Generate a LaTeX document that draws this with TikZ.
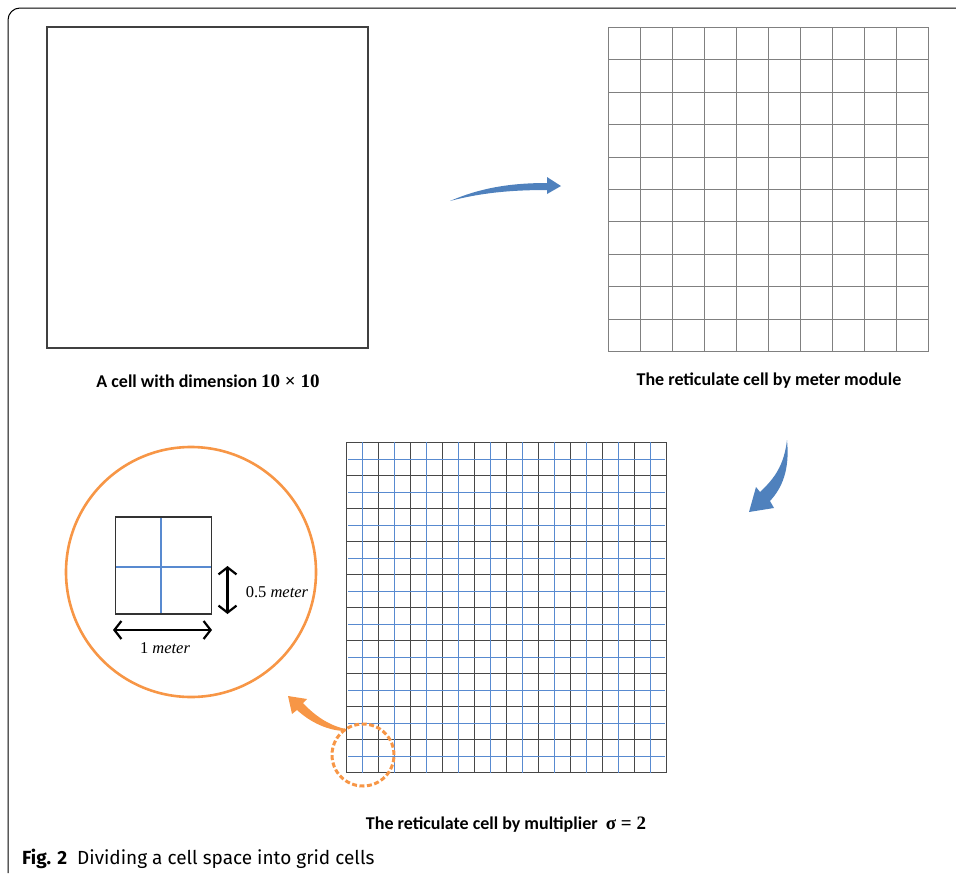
\documentclass[tikz,border=0pt]{standalone}
\usepackage{fontspec}
\setmainfont{Carlito}
\newfontfamily\capfont{Fira Sans}
\newfontfamily\serfont{Liberation Serif}
\usetikzlibrary{arrows.meta}
\definecolor{arrblue}{RGB}{79,129,189}
\definecolor{gridblue}{RGB}{88,138,208}
\definecolor{orng}{RGB}{247,150,70}
\begin{document}
\begin{tikzpicture}[x=1pt,y=-1pt,
  lbl/.style={font=\bfseries\fontsize{18}{21}\selectfont, inner sep=0pt},
  mathlbl/.style={font=\serfont\fontsize{16.5}{19}\selectfont, inner sep=0pt},
  boxline/.style={draw=black!75, line width=1.4pt},
  gridgray/.style={draw=black!50, line width=1.3pt},
  griddark/.style={draw=black!72, line width=1.7pt},
  gridbl/.style={draw=gridblue, line width=1.8pt},
  dimarrow/.style={line width=2.2pt, {Straight Barb[length=7pt,width=18pt]}-{Straight Barb[length=7pt,width=18pt]}},
]
\useasboundingbox (0,0) rectangle (956,873);
% frame
\draw[line width=1pt, rounded corners=12pt] (8,873) -- (8,8) -- (956,8);

% big cell
\node[boxline, minimum width=321pt, minimum height=321pt, inner sep=0pt, outer sep=0pt] (cell) at (207.5,187.5) {};
\node[lbl] (l1) at (208,381) {A cell with dimension {\serfont\fontsize{19}{21}\selectfont 10 × 10}};

% top right grid
\node[inner sep=0pt, outer sep=0pt, minimum width=320pt, minimum height=324pt] (g1) at (768,189) {};
\foreach \i in {0,...,10}{
  \pgfmathsetmacro{\yy}{round(27+32.4*\i)+0.5}
  \draw[gridgray] (608.5+32*\i,27) -- (608.5+32*\i,351);
  \draw[gridgray] (608,\yy) -- (929,\yy);
}
\node[lbl] (l2) at (769,381) {The reticulate cell by meter module};

% top arrow
\fill[arrblue] (450,201) .. controls (480,188) and (510,183) .. (547,183) -- (547,177) -- (561,186) -- (547,194) -- (547,190) .. controls (510,190) and (480,193) .. (450,201) -- cycle;

% down arrow
\fill[arrblue] (787,440) .. controls (790,470) and (782,488) .. (770,501) -- (774,508) -- (749,512) -- (756,487) -- (760,492) .. controls (775,478) and (784,465) .. (787,440) -- cycle;

% bottom grid
\node[inner sep=0pt, outer sep=0pt, minimum width=320pt, minimum height=330pt] (g2) at (506,607) {};
\foreach \i in {0,...,10}{
  \pgfmathsetmacro{\yy}{round(442+33*\i)+0.5}
  \draw[griddark] (346.5+32*\i,442) -- (346.5+32*\i,773);
  \draw[griddark] (346,\yy) -- (667,\yy);
}
\foreach \i in {0,...,9}{
  \pgfmathsetmacro{\yy}{round(458.5+33*\i)+0.5}
  \draw[gridbl] (362.5+32*\i,442) -- (362.5+32*\i,773);
  \draw[gridbl] (348,\yy) -- (665,\yy);
}
\node[lbl] (l3) at (506,825) {The reticulate cell by multiplier\ \ {\serfont\fontsize{19}{21}\selectfont σ = 2}};

% dashed circle and orange arrow
\draw[orng, line width=3pt, dash pattern=on 5pt off 2.5pt] (363,755) circle[radius=31pt];
\coordinate (dc) at (363,755);
\fill[orng] (346,729) .. controls (330,726) and (315,716) .. (303,703) -- (307,699) -- (288,696) -- (292,714) -- (297,710) .. controls (310,722) and (328,731) .. (346,731) -- cycle;

% zoom circle
\draw[orng, line width=2.6pt] (191,572) circle[radius=125pt];
\node[draw=black!80, line width=1.2pt, minimum width=96pt, minimum height=97pt, inner sep=0pt, outer sep=0pt] (sq) at (163.3,565.5) {};
\draw[gridbl, line width=1.4pt] (161,517) -- (161,614);
\draw[gridbl, line width=1.4pt] (115,567) -- (211.7,567);
\draw[black!80, line width=1.3pt] (sq.north west) rectangle (sq.south east);
\coordinate (va) at (227.5,566);
\coordinate (vb) at (227.5,614);
\coordinate (ha) at (113,630);
\coordinate (hb) at (212,630);
\draw[dimarrow] (va) -- (vb);
\draw[dimarrow] (ha) -- (hb);
\node[mathlbl] (m1) at (277,592) {0.5 \textit{meter}};
\node[mathlbl] (m2) at (165,648) {1 \textit{meter}};

% caption
\node[anchor=base west, inner sep=0pt, font=\capfont\fontsize{19}{22}\selectfont] (cap) at (22,864) {\textbf{Fig. 2}\ \ Dividing a cell space into grid cells};
\end{tikzpicture}
\end{document}
